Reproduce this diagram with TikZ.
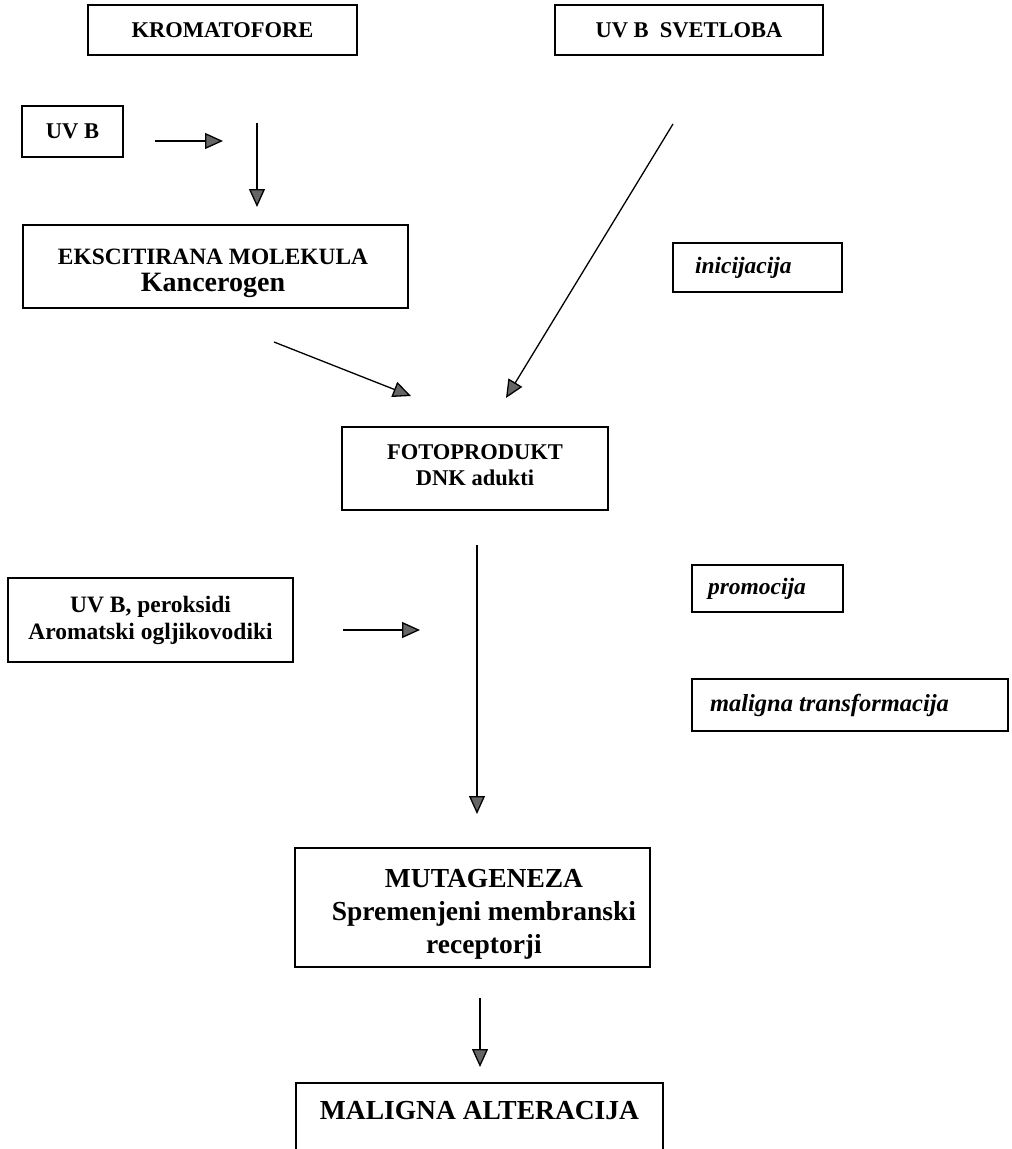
\documentclass[tikz,border=0pt]{standalone}
\usepackage{fontspec}
\setmainfont{Liberation Serif}
\usetikzlibrary{arrows.meta}
\newcommand\szN{\fontsize{22.5}{26}\selectfont}
\newcommand\szE{\fontsize{23.4}{26}\selectfont}
\newcommand\szK{\fontsize{28}{31}\selectfont}
\newcommand\szM{\fontsize{27.5}{33}\selectfont}
\newcommand\szP{\fontsize{23.5}{27}\selectfont}
\newcommand\szI{\fontsize{23.5}{26}\selectfont}
\begin{document}
\begin{tikzpicture}[x=1pt,y=-1pt,
  box/.style={draw, line width=1.4pt, rectangle, inner sep=0pt, align=center, font=\bfseries\szN},
  ibox/.style={draw, line width=1.4pt, rectangle, inner ysep=0pt, align=flush left, font=\bfseries\itshape\szI},
  arr/.style={line width=1.3pt, -{Triangle[length=18pt,width=16pt,fill=black!60]}},
]
\useasboundingbox (0,0) rectangle (1012,1149);
\clip (0,0) rectangle (1012,1149);

% nodes
\node[box, minimum width=269, minimum height=50] (krom) at (222.5,30) {KROMATOFORE};
\node[box, minimum width=268, minimum height=50] (svet) at (689,30) {UV B\ \ SVETLOBA};
\node[box, minimum width=101, minimum height=51] (uvb) at (72.5,131.5) {UV B};
\node[box, minimum width=385, minimum height=83] (eks) at (215.5,266.5) {};
\node[font=\bfseries\szE, inner sep=0pt, align=center] (ekst) at (213,273)
  {EKSCITIRANA MOLEKULA\\[1pt]{\szK Kancerogen}};
\node[ibox, inner xsep=22pt, text width=125, minimum height=49] (ini) at (757.5,267.5) {inicijacija};
\node[box, minimum width=266, minimum height=83] (foto) at (475,468.5) {};
\node[font=\bfseries\szN, inner sep=0pt, align=center] (fotot) at (475,465)
  {FOTOPRODUKT\\DNK adukti};
\node[box, font=\bfseries\szP, minimum width=285, minimum height=84] (perok) at (150.5,620)
  {UV B, peroksidi\\Aromatski ogljikovodiki};
\node[ibox, inner xsep=16pt, text width=119, minimum height=47] (promo) at (767.5,588.5) {promocija};
\node[ibox, inner xsep=18pt, text width=280, minimum height=52, font=\bfseries\itshape\fontsize{24.5}{27}\selectfont] (malt) at (850,705) {maligna transformacija};
\node[box, minimum width=355, minimum height=119] (mut) at (472.5,907.5) {};
\node[font=\bfseries\szM, inner sep=0pt, align=center] (mutt) at (484,914)
  {MUTAGENEZA\\Spremenjeni membranski\\receptorji};
\node[font=\bfseries\szM, inner sep=0pt] (malig) at (479.5,1111) {MALIGNA ALTERACIJA};
\draw[line width=1.4pt] (296,1160) -- (296,1083) -- (663,1083) -- (663,1160);

% free connector ends
\coordinate (a1s) at (155,141);
\coordinate (a1e) at (223,141);
\coordinate (a2s) at (257,123);
\coordinate (a2e) at (257,207);
\coordinate (a3s) at (274,342);
\coordinate (a3e) at (411,396);
\coordinate (a4s) at (673,124);
\coordinate (a4e) at (506,398);
\coordinate (a5s) at (477,545);
\coordinate (a5e) at (477,814);
\coordinate (a6s) at (343,630);
\coordinate (a6e) at (420,630);
\coordinate (a7s) at (480,998);
\coordinate (a7e) at (480,1067);

\draw[arr] (a1s) -- (a1e);
\draw[arr] (a2s) -- (a2e);
\draw[arr] (a3s) -- (a3e);
\draw[arr] (a4s) -- (a4e);
\draw[arr] (a5s) -- (a5e);
\draw[arr] (a6s) -- (a6e);
\draw[arr] (a7s) -- (a7e);
\end{tikzpicture}
\end{document}
